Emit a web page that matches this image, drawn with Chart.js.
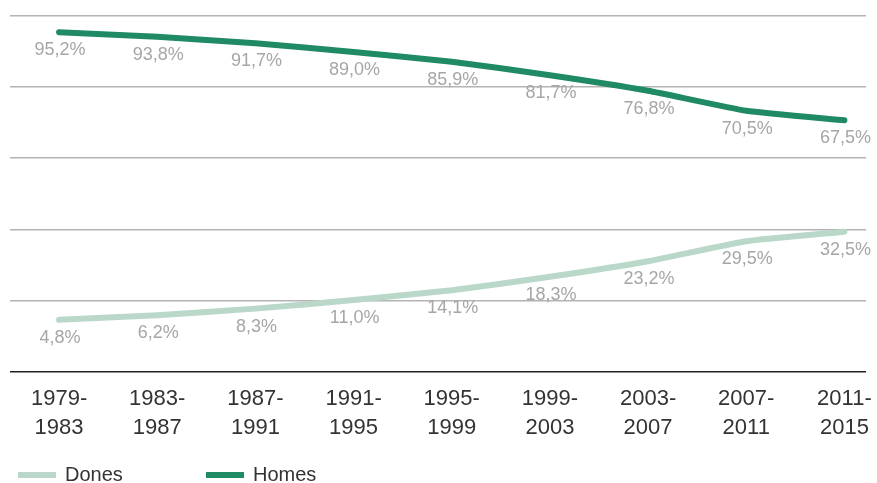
<!DOCTYPE html>
<html>
<head>
<meta charset="utf-8">
<script src="https://cdn.jsdelivr.net/npm/chart.js@4"></script>
<style>
  html, body { margin: 0; padding: 0; background: #fff; }
  #wrap { width: 877px; height: 483px; }
</style>
</head>
<body>
<div id="wrap"><canvas id="chart" width="877" height="483"></canvas></div>
<script>
const periods = ['1979-1983', '1983-1987', '1987-1991', '1991-1995', '1995-1999',
                 '1999-2003', '2003-2007', '2007-2011', '2011-2015'];
const dones = [4.8, 6.2, 8.3, 11.0, 14.1, 18.3, 23.2, 29.5, 32.5];
const homes = [95.2, 93.8, 91.7, 89.0, 85.9, 81.7, 76.8, 70.5, 67.5];

const yMin = -11.5, yMax = 100.3;
const fmt = v => v.toFixed(1).replace('.', ',') + '%';

// value labels under each point
const valueLabels = {
    id: 'valueLabels',
    afterDatasetsDraw(chart) {
        const ctx = chart.ctx;
        ctx.save();
        ctx.font = '18px "Liberation Sans", Arial, sans-serif';
        ctx.fillStyle = '#a6a6a6';
        ctx.textAlign = 'center';
        ctx.textBaseline = 'middle';
        chart.data.datasets.forEach((ds, i) => {
            chart.getDatasetMeta(i).data.forEach((pt, j) => {
                ctx.fillText(fmt(ds.data[j].y), pt.x + 1, pt.y + 18);
            });
        });
        ctx.restore();
    }
};

// legend drawn at the bottom left
const bottomLegend = {
    id: 'bottomLegend',
    afterDraw(chart) {
        const ctx = chart.ctx;
        const xs = [18, 206];
        ctx.save();
        ctx.font = '20px "Liberation Sans", Arial, sans-serif';
        ctx.textBaseline = 'middle';
        chart.data.datasets.forEach((ds, i) => {
            ctx.fillStyle = ds.borderColor;
            ctx.fillRect(xs[i], 472, 38, 6);
            ctx.fillStyle = '#333';
            ctx.fillText(ds.label, xs[i] + 47, 475);
        });
        ctx.restore();
    }
};

new Chart(document.getElementById('chart'), {
    type: 'line',
    data: {
        datasets: [
            { label: 'Dones', data: dones.map((v, i) => ({ x: i, y: v })),
              borderColor: '#b9d8c9', borderWidth: 6, tension: 0.15,
              borderCapStyle: 'round', pointRadius: 0 },
            { label: 'Homes', data: homes.map((v, i) => ({ x: i, y: v })),
              borderColor: '#1f8a63', borderWidth: 6, tension: 0.15,
              borderCapStyle: 'round', pointRadius: 0 }
        ]
    },
    options: {
        responsive: false,
        animation: false,
        layout: { padding: { left: 10, right: 11, top: 16, bottom: 36 } },
        plugins: { legend: { display: false }, tooltip: { enabled: false } },
        scales: {
            x: {
                type: 'linear', min: -0.5, max: 8.22,
                afterBuildTicks: s => { s.ticks = periods.map((p, i) => ({ value: i })); },
                ticks: {
                    autoSkip: false, maxRotation: 0, padding: 4,
                    color: '#333',
                    font: { size: 22, family: '"Liberation Sans", Arial, sans-serif', lineHeight: 1.35 },
                    callback: v => {
                        const p = periods[v].split('-');
                        return [p[0] + '-', p[1]];
                    }
                },
                grid: { display: false },
                border: { display: false }
            },
            y: {
                min: yMin, max: yMax,
                afterBuildTicks: s => {
                    s.ticks = [0, 1, 2, 3, 4, 5].map(k => ({ value: yMin + k * (yMax - yMin) / 5 }));
                },
                ticks: { display: false },
                grid: {
                    drawTicks: false, lineWidth: 1.5,
                    color: c => c.index === 0 ? '#222' : '#b3b3b3'
                },
                border: { display: false }
            }
        }
    },
    plugins: [valueLabels, bottomLegend]
});
</script>
</body>
</html>
